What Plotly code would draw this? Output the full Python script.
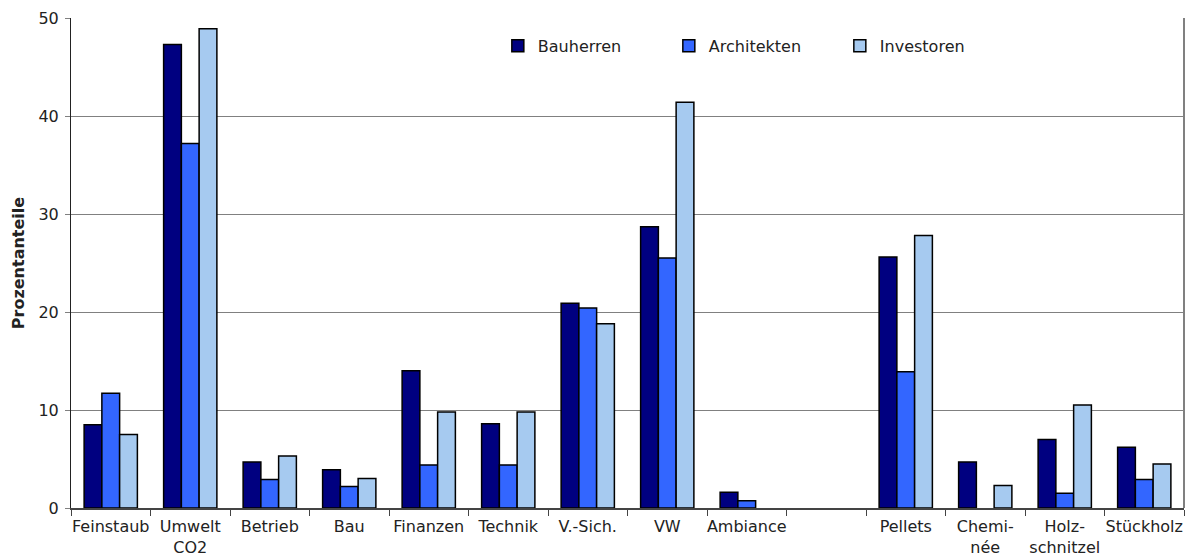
import plotly.graph_objects as go

# Kategorien (leere Kategorie zwischen Ambiance und Pellets als Trenner)
categories = [
    "Feinstaub", "Umwelt<br>CO2", "Betrieb", "Bau", "Finanzen", "Technik",
    "V.-Sich.", "VW", "Ambiance", " ", "Pellets", "Chemi-<br>née",
    "Holz-<br>schnitzel", "Stückholz",
]

bauherren = [8.5, 47.3, 4.7, 3.9, 14.0, 8.6, 20.9, 28.7, 1.6, None, 25.6, 4.7, 7.0, 6.2]
architekten = [11.7, 37.2, 2.9, 2.2, 4.4, 4.4, 20.4, 25.5, 0.75, None, 13.9, None, 1.5, 2.9]
investoren = [7.5, 48.9, 5.3, 3.0, 9.8, 9.8, 18.8, 41.4, None, None, 27.8, 2.3, 10.5, 4.5]

series = [
    ("Bauherren", bauherren, "#000080"),
    ("Architekten", architekten, "#3366FF"),
    ("Investoren", investoren, "#A6CAF0"),
]

FONT = "Verdana, DejaVu Sans, sans-serif"

fig = go.Figure()
for name, vals, color in series:
    fig.add_trace(go.Bar(
        x=categories, y=vals, name=name,
        marker=dict(color=color, line=dict(color="black", width=1.5)),
    ))

fig.update_layout(
    width=1192, height=559,
    barmode="group", bargap=0.33, bargroupgap=0,
    margin=dict(l=71, r=8, t=18, b=51),
    plot_bgcolor="white", paper_bgcolor="white",
    font=dict(family=FONT, size=16, color="#222222"),
    showlegend=True,
    legend=dict(
        orientation="h", x=0.3835, y=0.978, xanchor="left", yanchor="top",
        bgcolor="rgba(0,0,0,0)", font=dict(size=16),
        entrywidth=126, entrywidthmode="pixels",
    ),
    xaxis=dict(
        type="category", categoryorder="array", categoryarray=categories,
        tickson="boundaries", ticks="outside", ticklen=6, tickcolor="#444444",
        showline=True, linecolor="#444444", linewidth=1.5,
        showgrid=False, tickfont=dict(size=16), tickangle=0, automargin=False,
        ticklabelstandoff=3,
    ),
    yaxis=dict(
        range=[0, 50], dtick=10, ticks="outside", ticklen=5,
        tickcolor="#808080", showline=True, linecolor="#222222", linewidth=1,
        showgrid=True, gridcolor="#808080", gridwidth=1.3,
        zeroline=False, tickfont=dict(size=16), automargin=False,
        ticklabelstandoff=3,
        title=dict(text="<b>Prozentanteile</b>", font=dict(size=16), standoff=9),
    ),
)

# rechter Rahmen des Diagrammbereichs
fig.add_shape(type="line", xref="paper", yref="paper", x0=1, x1=1, y0=0, y1=1,
              layer="above", line=dict(color="#808080", width=2))

fig.write_html("out.html", config={"displayModeBar": False},
               post_script="document.body.style.margin='0';")
